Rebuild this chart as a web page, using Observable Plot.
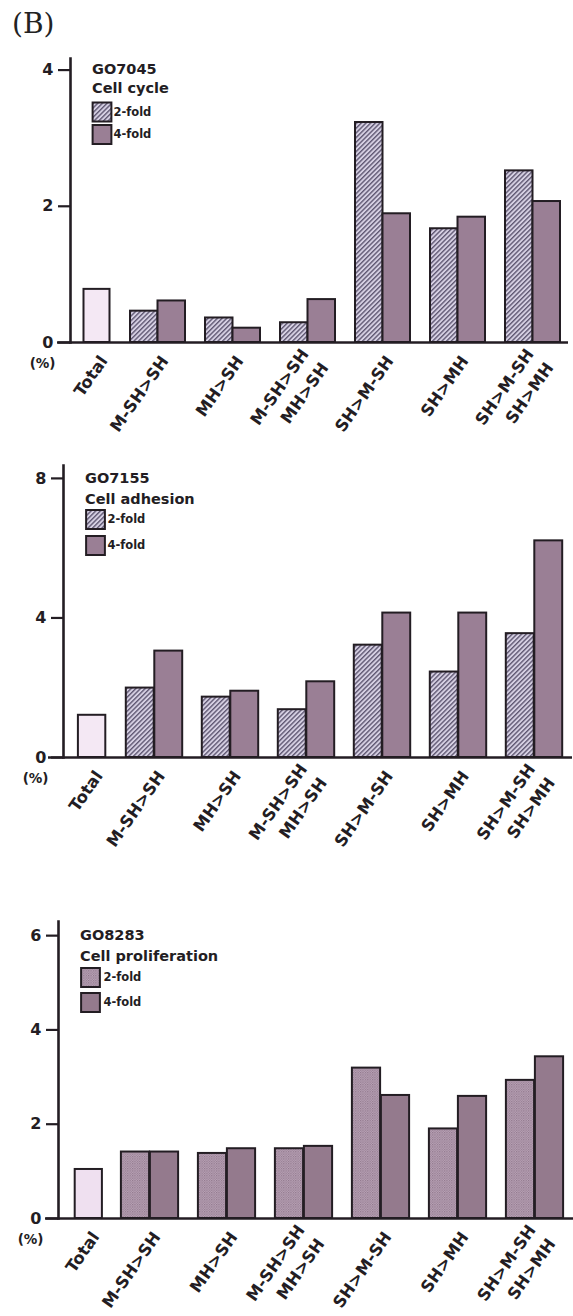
<!DOCTYPE html>
<html><head><meta charset="utf-8">
<script src="https://cdn.jsdelivr.net/npm/d3@7"></script>
<script src="https://cdn.jsdelivr.net/npm/@observablehq/plot@0.6"></script>
<style>
body{margin:0;background:#fff;width:573px;height:1316px;position:relative;overflow:hidden;}
#tag{position:absolute;left:12px;top:7px;font-family:"DejaVu Serif",serif;font-size:28px;color:#222;}
svg{position:absolute;left:0;}
</style></head><body>
<div id="tag">(B)</div>
<script>
// ---- data ----
const categories = ["Total", "M-SH>SH", "MH>SH", "M-SH>SH\nMH>SH", "SH>M-SH", "SH>MH", "SH>M-SH\nSH>MH"];
const folds = ["2-fold", "4-fold"];

const cycleTitle = "GO7045\nCell cycle";
const cycleTicks = [0, 2, 4];
const cycleTotal = 0.78;
const cycle2 = [0.46, 0.36, 0.29, 3.23, 1.67, 2.52];
const cycle4 = [0.61, 0.21, 0.63, 1.89, 1.84, 2.07];

const adhesionTitle = "GO7155\nCell adhesion";
const adhesionTicks = [0, 4, 8];
const adhesionTotal = 1.21;
const adhesion2 = [1.99, 1.73, 1.37, 3.22, 2.45, 3.55];
const adhesion4 = [3.05, 1.90, 2.17, 4.14, 4.14, 6.21];

const prolifTitle = "GO8283\nCell proliferation";
const prolifTicks = [0, 2, 4, 6];
const prolifTotal = 1.04;
const prolif2 = [1.41, 1.38, 1.48, 3.19, 1.90, 2.93];
const prolif4 = [1.41, 1.48, 1.53, 2.61, 2.59, 3.43];

const ink = "#231d23";

function panel(cfg) {
  const {height, marginTop, marginBottom, marginLeft, marginRight, yMax, ticks,
    step, c1, barW, totalW, totalShift, axisExt, total, two, four, title,
    titleDy, titleLH, legDx, legDy, legTextDx, fill2, fill4, fillTotal} = cfg;
  const rows2 = categories.slice(1).map((c, i) => ({cat: c, fold: folds[0], value: two[i]}));
  const rows4 = categories.slice(1).map((c, i) => ({cat: c, fold: folds[1], value: four[i]}));
  const c0 = c1 - step;
  const range = [c0 - step / 2, c0 - step / 2 + step * categories.length];
  const font = "DejaVu Sans";
  const lblDx = 5, lblDy = 14;
  const lbl = {frameAnchor: "bottom", rotate: -55, textAnchor: "end", lineAnchor: "middle", lineHeight: 1.45,
    dy: lblDy, fontSize: 16.5, fontWeight: "bold", fill: ink};
  return Plot.plot({
    width: 573, height, marginTop, marginBottom, marginLeft, marginRight,
    style: {background: "transparent", color: ink, fontFamily: font, fontWeight: "bold"},
    x: {domain: categories, range, padding: 0, axis: null},
    y: {domain: [0, yMax], axis: null},
    marks: [
      Plot.barY([{cat: categories[0], value: total}], {x: "cat", y: "value", fill: fillTotal, stroke: ink, strokeWidth: 2,
        insetLeft: (step - totalW) / 2, insetRight: (step - totalW) / 2, dx: totalShift}),
      Plot.barY(rows2, {x: "cat", y: "value", fill: fill2, stroke: ink, strokeWidth: 2,
        insetLeft: step / 2 - barW, insetRight: step / 2}),
      Plot.barY(rows4, {x: "cat", y: "value", fill: fill4, stroke: ink, strokeWidth: 2,
        insetLeft: step / 2, insetRight: step / 2 - barW}),
      Plot.ruleY([0], {stroke: ink, strokeWidth: 2.6, insetLeft: -axisExt}),
      Plot.frame({anchor: "left", stroke: ink, strokeWidth: 2.6}),
      Plot.axisY({ticks, label: null, tickSize: 12, tickPadding: 5, fontSize: 16, fontWeight: "bold",
        strokeWidth: 2.2, tickFormat: d => String(d)}),
      Plot.text(categories.slice(0, 1), {x: d => d, text: d => d, dx: lblDx + totalShift, ...lbl}),
      Plot.text(categories.slice(1), {x: d => d, text: d => d, dx: lblDx, ...lbl}),
      Plot.text(["(%)"], {x: null, y: null, text: d => d, frameAnchor: "bottom-left", dx: -15, dy: 21,
        textAnchor: "end", lineAnchor: "middle", fontSize: 13.5, fontWeight: "bold", fill: ink}),
      Plot.text([title], {x: null, y: null, text: d => d, frameAnchor: "top-left", dx: 21.5, dy: titleDy,
        textAnchor: "start", lineAnchor: "top", lineHeight: titleLH, fontSize: 14.5, fontWeight: "bold", fill: ink}),
      Plot.dot([folds[0]], {x: null, y: null, frameAnchor: "top-left", dx: legDx, dy: legDy[0], symbol: "square",
        r: 10.6, fill: fill2, stroke: ink, strokeWidth: 2}),
      Plot.dot([folds[1]], {x: null, y: null, frameAnchor: "top-left", dx: legDx, dy: legDy[1], symbol: "square",
        r: 10.6, fill: fill4, stroke: ink, strokeWidth: 2}),
      Plot.text([folds[0]], {x: null, y: null, text: d => d, frameAnchor: "top-left", dx: legTextDx, dy: legDy[0],
        fontSize: 11.5, fontWeight: "bold", fill: ink, textAnchor: "start", lineAnchor: "middle"}),
      Plot.text([folds[1]], {x: null, y: null, text: d => d, frameAnchor: "top-left", dx: legTextDx, dy: legDy[1],
        fontSize: 11.5, fontWeight: "bold", fill: ink, textAnchor: "start", lineAnchor: "middle"})
    ]
  });
}

const cfgs = [
  {id: "p1", top: 40, height: 410, marginTop: 18, marginBottom: 108, marginLeft: 70, marginRight: 5,
   yMax: 4.17, ticks: cycleTicks, step: 75, c1: 157, barW: 27.5, totalW: 26, totalShift: 14, axisExt: 13,
   total: cycleTotal, two: cycle2, four: cycle4, title: cycleTitle, titleDy: 1, titleLH: 1.36,
   legDx: 31.5, legDy: [53.5, 76], legTextDx: 43, pattern: "hatch", c4: "#9a7f95", ct: "#f4e8f4"},
  {id: "p2", top: 450, height: 430, marginTop: 15, marginBottom: 123, marginLeft: 63, marginRight: 1,
   yMax: 8.37, ticks: adhesionTicks, step: 76.6, c1: 153, barW: 28.5, totalW: 28, totalShift: 13.6, axisExt: 15,
   total: adhesionTotal, two: adhesion2, four: adhesion4, title: adhesionTitle, titleDy: 3, titleLH: 1.42,
   legDx: 32, legDy: [54, 80], legTextDx: 44, pattern: "hatch", c4: "#9a7f95", ct: "#f4e8f4"},
  {id: "p3", top: 880, height: 436, marginTop: 41, marginBottom: 98, marginLeft: 58, marginRight: 0,
   yMax: 6.30, ticks: prolifTicks, step: 77.8, c1: 148, barW: 29, totalW: 28, totalShift: 15.8, axisExt: 13,
   total: prolifTotal, two: prolif2, four: prolif4, title: prolifTitle, titleDy: 3, titleLH: 1.48,
   legDx: 32, legDy: [56, 81], legTextDx: 45, pattern: "stipple", c4: "#947a8d", ct: "#efe0f0"}
];

for (const cfg of cfgs) {
  cfg.fill2 = `url(#${cfg.id}-pat)`;
  cfg.fill4 = cfg.c4;
  cfg.fillTotal = cfg.ct;
  const svg = panel(cfg);
  svg.style.top = cfg.top + "px";
  document.body.appendChild(svg);
  const defs = d3.select(svg).insert("defs", ":first-child");
  if (cfg.pattern === "hatch") {
    const p = defs.append("pattern").attr("id", `${cfg.id}-pat`).attr("patternUnits", "userSpaceOnUse")
      .attr("width", 3.3).attr("height", 3.3).attr("patternTransform", "rotate(45)");
    p.append("rect").attr("width", 3.3).attr("height", 3.3).attr("fill", "#d6d0e3");
    p.append("line").attr("x1", 0.7).attr("y1", 0).attr("x2", 0.7).attr("y2", 3.3).attr("stroke", "#574f6b").attr("stroke-width", 1.3);
  } else {
    const p = defs.append("pattern").attr("id", `${cfg.id}-pat`).attr("patternUnits", "userSpaceOnUse")
      .attr("width", 2.4).attr("height", 2.4);
    p.append("rect").attr("width", 2.4).attr("height", 2.4).attr("fill", "#bca6b9");
    p.append("rect").attr("width", 1.2).attr("height", 1.2).attr("fill", "#8d7489");
    p.append("rect").attr("x", 1.2).attr("y", 1.2).attr("width", 1.2).attr("height", 1.2).attr("fill", "#9d8599");
  }
}
</script>
</body></html>
